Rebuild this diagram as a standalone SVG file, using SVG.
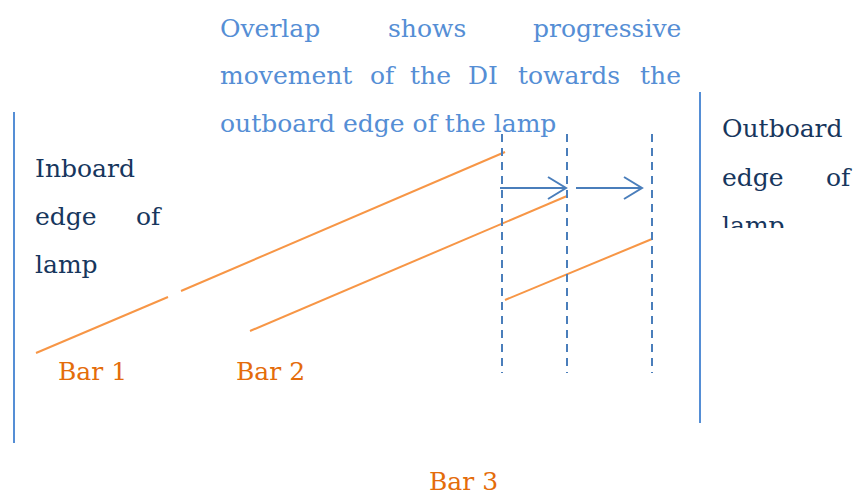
<svg xmlns="http://www.w3.org/2000/svg" width="859" height="496" viewBox="0 0 859 496">
<style>
text{font-family:"DejaVu Serif","Liberation Serif",serif;font-size:25px}
.note{fill:#558ed5}
.edge{fill:#17365d}
.bar{fill:#e46c0a}
.wall{stroke:#558ed5;stroke-width:2;fill:none}
.bl{stroke:#f79646;stroke-width:2;fill:none}
.dash{stroke:#4a7ebb;stroke-width:2;stroke-dasharray:8 6;fill:none}
.arr{stroke:#4a7ebb;stroke-width:2;fill:none}
</style>
<defs>
<clipPath id="clipR"><rect x="700" y="90" width="159" height="138"/></clipPath>
</defs>
<rect width="859" height="496" fill="#fff"/>
<g id="inboard-edge">
<line class="wall" x1="14" y1="112" x2="14" y2="443"/>
<text class="edge" x="35" y="177">Inboard</text>
<text class="edge" x="35" y="225">edge</text>
<text class="edge" x="136" y="225">of</text>
<text class="edge" x="35" y="273">lamp</text>
</g>
<g id="outboard-edge">
<line class="wall" x1="700" y1="92" x2="700" y2="423"/>
<g clip-path="url(#clipR)">
<text class="edge" x="722" y="137">Outboard</text>
<text class="edge" x="722" y="186">edge</text>
<text class="edge" x="826" y="186">of</text>
<text class="edge" x="722" y="234">lamp</text>
</g>
</g>
<g id="note">
<text class="note" x="220" y="37">Overlap</text>
<text class="note" x="388" y="37">shows</text>
<text class="note" x="533" y="37">progressive</text>
<text class="note" x="220" y="84">movement</text>
<text class="note" x="370" y="84">of</text>
<text class="note" x="410" y="84">the</text>
<text class="note" x="468" y="84">DI</text>
<text class="note" x="518" y="84">towards</text>
<text class="note" x="640" y="84">the</text>
<text class="note" x="220" y="132">outboard edge of the lamp</text>
</g>
<g id="bar1">
<line class="bl" x1="36" y1="353" x2="168" y2="297"/>
<line class="bl" x1="181" y1="291" x2="505" y2="152"/>
<text class="bar" x="58" y="380">Bar 1</text>
</g>
<g id="bar2">
<line class="bl" x1="250" y1="331" x2="567" y2="196"/>
<text class="bar" x="236" y="380">Bar 2</text>
</g>
<g id="bar3">
<line class="bl" x1="505" y1="300" x2="652" y2="239"/>
<text class="bar" x="429" y="490">Bar 3</text>
</g>
<g id="connectors">
<line class="dash" x1="502" y1="134" x2="502" y2="373"/>
<line class="dash" x1="567" y1="134" x2="567" y2="373"/>
<line class="dash" x1="652" y1="134" x2="652" y2="373"/>
<path class="arr" d="M500 188H566M548 177L566 188L548 199"/>
<path class="arr" d="M576 188H642M624 177L642 188L624 199"/>
</g>
</svg>
